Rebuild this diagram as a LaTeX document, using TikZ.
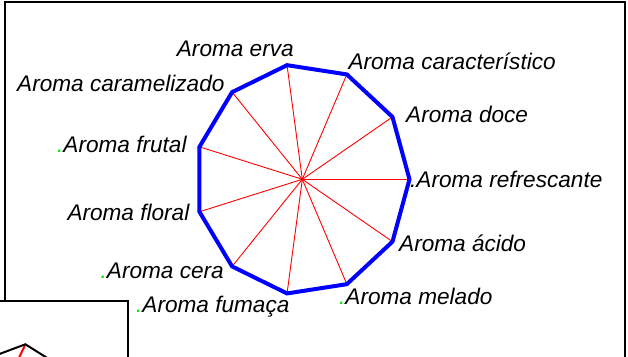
\documentclass[tikz,border=0pt]{standalone}
\usepackage{fontspec}
\setmainfont{Liberation Sans}
\definecolor{dotgreen}{RGB}{0,235,0}
\begin{document}
\begin{tikzpicture}[x=1pt,y=-1pt,
  lab/.style={font=\itshape\fontsize{22.6}{26}\selectfont, inner sep=0pt, anchor=base west},
  spoke/.style={red, line width=0.9pt},
  outline/.style={blue, line width=4pt, line join=miter},
  frame/.style={black, line width=2pt}]
\useasboundingbox (0,0) rectangle (628,356);
\clip (0,0) rectangle (628,356);
\fill[white] (0,0) rectangle (628,356);
% main frame
\draw[frame] (5,2) rectangle (625,430);
% radar chart
\coordinate (c) at (302.3,179.3);
\foreach \i in {0,...,10} {
  \coordinate (v\i) at ({302.3+107.2*cos(\i*360/11)},{179.3-115.3*sin(\i*360/11)});
}
\foreach \i in {0,...,10} { \draw[spoke] (c) -- (v\i); }
\fill[red] (c) circle (1.8);
\draw[outline] (v0) -- (v1) -- (v2) -- (v3) -- (v4) -- (v5) -- (v6) -- (v7) -- (v8) -- (v9) -- (v10) -- cycle;
% labels
\node[lab] (lrefr) at (410,187) {.Aroma refrescante};
\node[lab] (ldoce) at (406,122.7) {Aroma doce};
\node[lab] (lcarac) at (348.3,69.3) {Aroma característico};
\node[lab] (lerva) at (176.7,56) {Aroma erva};
\node[lab] (lcaram) at (17,91.5) {Aroma caramelizado};
\node[lab] (lfrut) at (57,152) {\textcolor{dotgreen}{.}Aroma frutal};
\node[lab] (lflor) at (67.3,220.5) {Aroma floral};
\node[lab] (lcera) at (100.5,278) {\textcolor{dotgreen}{.}Aroma cera};
\node[lab] (lfum) at (136,312) {\textcolor{dotgreen}{.}Aroma fumaça};
\node[lab] (lmel) at (339,304) {\textcolor{dotgreen}{.}Aroma melado};
\node[lab] (lacid) at (399,251.7) {Aroma ácido};
% overlapping second chart window
\draw[frame, fill=white] (-10,301) rectangle (128,430);
\coordinate (m) at (25.4,344.3);
\coordinate (mL) at (-10,357.5);
\coordinate (mR) at (52,361);
\coordinate (mr) at (17,362);
\draw[spoke, line width=2pt] (m) -- (mr);
\draw[black, line width=2pt, line join=miter] (mL) -- (m) -- (mR);
\end{tikzpicture}
\end{document}
